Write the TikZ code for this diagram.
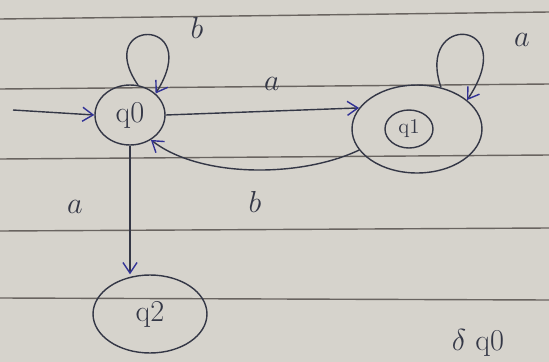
\documentclass[tikz,border=0pt]{standalone}
\usepackage{tikz}
\usetikzlibrary{shapes.geometric,arrows.meta}
\definecolor{paper}{RGB}{214,211,204}
\definecolor{rulegray}{RGB}{105,100,96}
\definecolor{ink}{RGB}{52,55,70}
\definecolor{blueink}{RGB}{50,50,150}
\begin{document}
\begin{tikzpicture}[x=0.02cm,y=-0.02cm,
  state/.style={ellipse,draw=ink,thick,text=ink,inner sep=0pt,font=\LARGE},
  edge/.style={draw=ink,thick,-{Straight Barb[length=6pt,width=8pt,color=blueink]}},
  lbl/.style={text=ink,font=\LARGE}]
  % Paper
  \fill[paper] (0,0) rectangle (549,362);
  \useasboundingbox (0,0) rectangle (549,362);
  % Ruled lines
  \draw[rulegray,line width=0.8pt] (0,19) -- (549,12);
  \draw[rulegray,line width=0.8pt] (0,89) -- (549,84);
  \draw[rulegray,line width=0.8pt] (0,159) -- (549,155);
  \draw[rulegray,line width=0.8pt] (0,231) -- (549,228);
  \draw[rulegray,line width=0.8pt] (0,298) -- (549,300);
  % States
  \node[state,minimum width=1.4cm,minimum height=1.2cm] (q0) at (130,115) {q0};
  \node[state,minimum width=2.6cm,minimum height=1.76cm] (q1) at (417,129) {};
  \node[state,minimum width=0.96cm,minimum height=0.76cm,font=\large] (q1in) at (409,129) {q1};
  \node[state,minimum width=2.28cm,minimum height=1.56cm] (q2) at (150,314) {q2};
  % Start arrow
  \coordinate (start) at (13,110);
  \draw[edge] (start) -- (q0.west);
  % Transitions
  \draw[edge] (q0.75) .. controls (92,18) and (205,15) .. (q0.40);
  \node[lbl] (lb0) at (197,28) {$b$};
  \draw[edge] (q0.east) -- (q1.160);
  \node[lbl] (la01) at (272,84) {$a$};
  \draw[edge] (q1.200) .. controls (300,178) and (200,178) .. (q0.-50);
  \node[lbl] (lb10) at (255,202) {$b$};
  \draw[edge] (q0.south) -- (q0.south |- q2.north);
  \node[lbl] (la02) at (75,207) {$a$};
  \draw[edge] (q1.60) .. controls (415,12) and (522,18) .. (q1.30);
  \node[lbl] (la1) at (522,40) {$a$};
  % Note
  \node[text=ink,font=\LARGE] (delta) at (478,343) {$\delta$ q0};
\end{tikzpicture}
\end{document}
